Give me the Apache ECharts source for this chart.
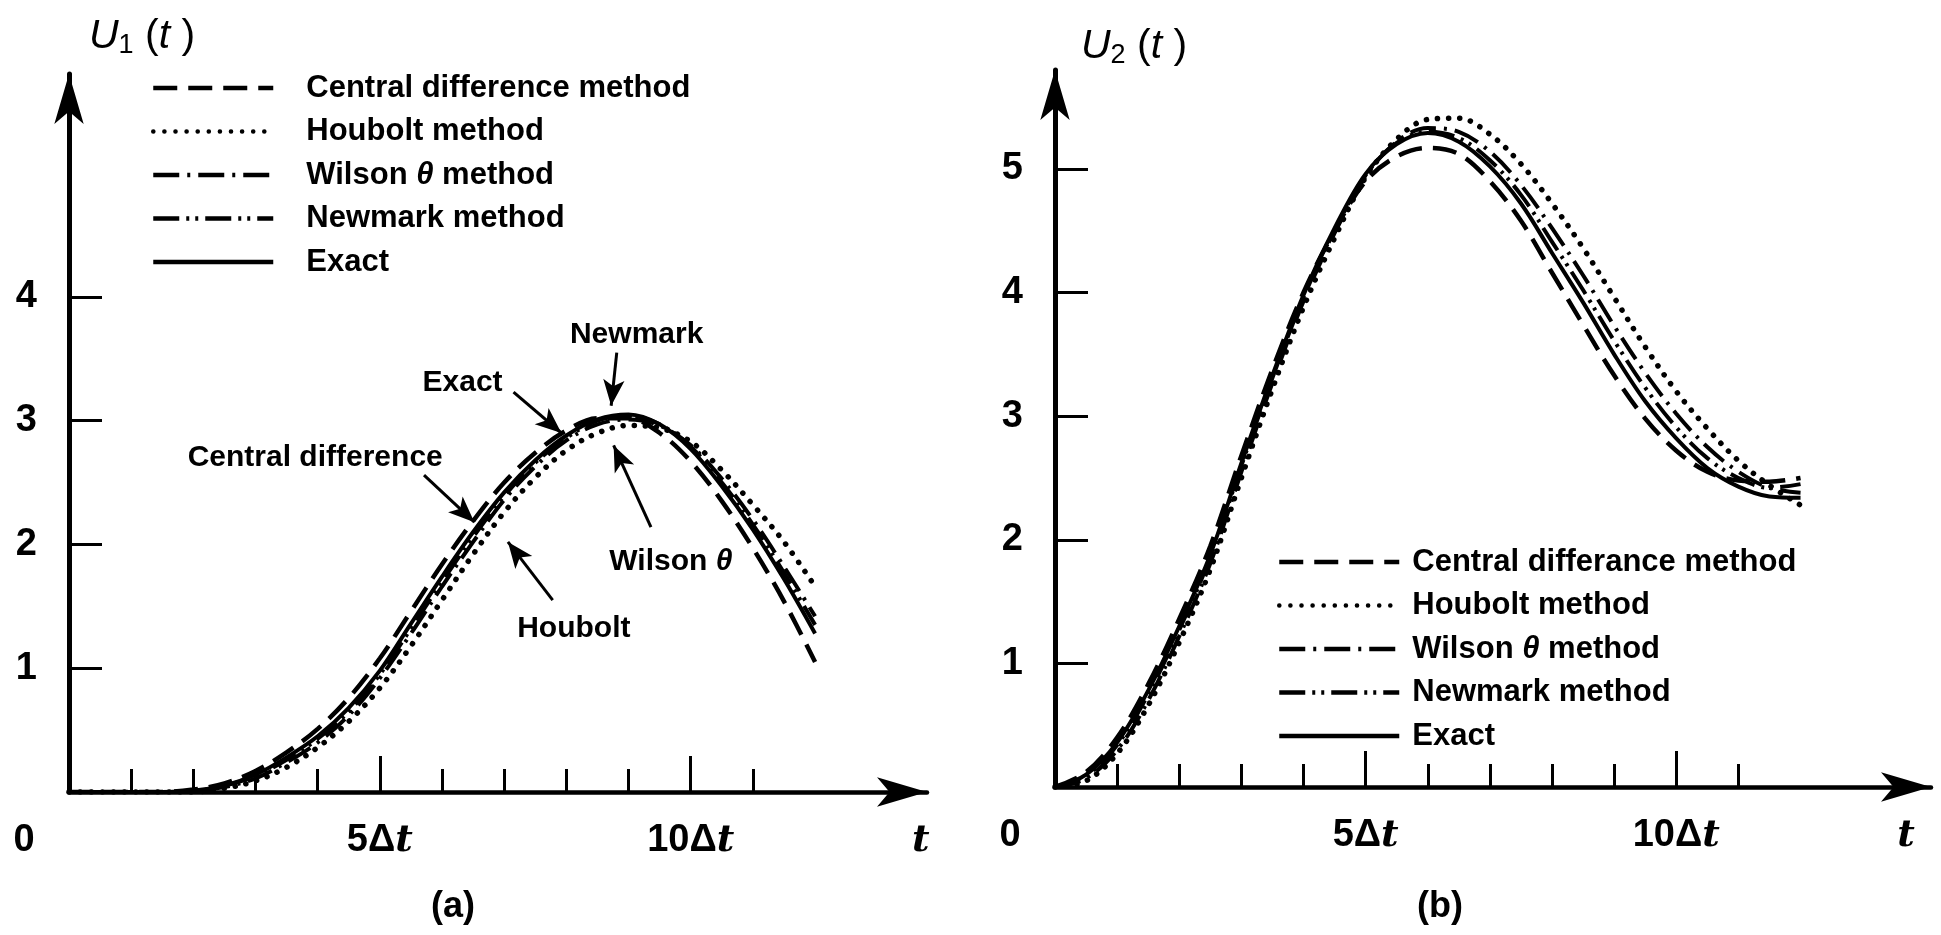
<!DOCTYPE html>
<html>
<head>
<meta charset="utf-8">
<title>U1(t), U2(t)</title>
<script src="https://cdn.jsdelivr.net/npm/echarts@6/dist/echarts.min.js"></script>
<style>
  html, body { margin: 0; padding: 0; background: #fff; }
  #chart { width: 1941px; height: 935px; }
</style>
</head>
<body>
<div id="chart"></div>
<script>
// time in units of Δt
const steps = [0, 0.5, 1, 1.5, 2, 2.5, 3, 3.5, 4, 4.5, 5, 5.5, 6, 6.5, 7, 7.5, 8, 8.5, 9, 9.5, 10, 10.5, 11, 11.5, 12];

// (a) U1(t)
const centralA = [0, 0, 0, 0, 0.02, 0.07, 0.17, 0.32, 0.51, 0.76, 1.08, 1.46, 1.84, 2.19, 2.50, 2.74, 2.92, 3.02, 3.02, 2.90, 2.67, 2.35, 1.97, 1.54, 1.05];
const houboltA = [0, 0, 0, 0, 0, 0.03, 0.09, 0.20, 0.36, 0.57, 0.84, 1.18, 1.55, 1.92, 2.26, 2.54, 2.76, 2.90, 2.96, 2.94, 2.83, 2.60, 2.32, 2.02, 1.66];
const wilsonA = [0, 0, 0, 0, 0.01, 0.04, 0.11, 0.24, 0.40, 0.62, 0.92, 1.28, 1.66, 2.02, 2.36, 2.63, 2.84, 2.97, 3.01, 2.96, 2.80, 2.53, 2.20, 1.82, 1.42];
const newmarkA = [0, 0, 0, 0, 0.01, 0.05, 0.13, 0.26, 0.43, 0.65, 0.95, 1.32, 1.70, 2.06, 2.39, 2.66, 2.86, 3.00, 3.04, 2.97, 2.79, 2.50, 2.16, 1.77, 1.35];
const exactA = [0, 0, 0, 0, 0.01, 0.05, 0.14, 0.28, 0.45, 0.68, 0.98, 1.36, 1.74, 2.10, 2.42, 2.68, 2.88, 3.01, 3.05, 2.97, 2.77, 2.47, 2.12, 1.72, 1.28];

// (b) U2(t)
const centralB = [0, 0.12, 0.40, 0.83, 1.36, 1.95, 2.68, 3.38, 4.00, 4.50, 4.90, 5.10, 5.17, 5.12, 4.90, 4.58, 4.16, 3.74, 3.33, 2.98, 2.72, 2.55, 2.48, 2.47, 2.50];
const houboltB = [0, 0.05, 0.27, 0.66, 1.17, 1.76, 2.50, 3.22, 3.88, 4.44, 4.93, 5.24, 5.40, 5.41, 5.28, 5.04, 4.72, 4.36, 3.96, 3.56, 3.20, 2.90, 2.64, 2.44, 2.28];
const wilsonB = [0, 0.07, 0.30, 0.70, 1.22, 1.81, 2.55, 3.27, 3.93, 4.48, 4.94, 5.22, 5.33, 5.30, 5.14, 4.87, 4.52, 4.14, 3.73, 3.35, 3.02, 2.75, 2.55, 2.42, 2.38];
const newmarkB = [0, 0.09, 0.34, 0.75, 1.27, 1.86, 2.60, 3.31, 3.96, 4.50, 4.95, 5.21, 5.30, 5.25, 5.07, 4.79, 4.41, 4.02, 3.61, 3.23, 2.91, 2.66, 2.50, 2.42, 2.45];
const exactB = [0, 0.10, 0.36, 0.78, 1.30, 1.88, 2.62, 3.33, 3.98, 4.52, 4.96, 5.20, 5.29, 5.22, 5.02, 4.72, 4.32, 3.92, 3.50, 3.12, 2.82, 2.58, 2.43, 2.35, 2.34];

const namesA = ['Central difference method', 'Houbolt method', 'Wilson θ method', 'Newmark method', 'Exact'];
const namesB = ['Central differance method', 'Houbolt method', 'Wilson θ method', 'Newmark method', 'Exact'];

// axis ticks and labels
const xTicks = [1, 2, 3, 4, 5, 6, 7, 8, 9, 10, 11];
const xMajorTicks = [5, 10];
const xLabelVals = [0, 5, 10, 13.7];
const xLabelText = ['{z|0}', '5Δ{i|t}', '10Δ{i|t}', '{i|t}'];
const yTicksA = [1, 2, 3, 4];
const yTicksB = [1, 2, 3, 4, 5];

// arrows + notes in panel (a), data units
const notesA = [
  { text: 'Newmark', at: [9.13, 3.69], from: [8.81, 3.55], to: [8.72, 3.12] },
  { text: 'Exact', at: [6.33, 3.31], from: [7.15, 3.23], to: [7.92, 2.90] },
  { text: 'Central difference', at: [3.96, 2.70], from: [5.71, 2.56], to: [6.52, 2.18] },
  { text: 'Wilson {th|θ}', at: [9.68, 1.86], from: [9.36, 2.14], to: [8.76, 2.80] },
  { text: 'Houbolt', at: [8.12, 1.32], from: [7.78, 1.55], to: [7.06, 2.02] }
];

const FONT = '"Liberation Sans", Arial, Helvetica, sans-serif';

const lineTypes = [
  { type: [24, 11], width: 4.5 },
  { type: [0.1, 11], width: 5.5, cap: 'round' },
  { type: [26, 8, 3, 8], width: 4 },
  { type: [26, 7, 3, 6, 3, 7], width: 4 },
  { type: 'solid', width: 4 }
];

function pairs(vals) {
  return steps.map(function (s, i) { return [s, vals[i]]; });
}

function xAxes(gridIndex, gridHeight, max) {
  return [{
    type: 'value', gridIndex: gridIndex, min: 0, max: max,
    axisLine: { show: true, onZero: false, symbol: ['none', 'arrow'], symbolSize: [22, 50], lineStyle: { color: '#000', width: 4.5 } },
    axisTick: { show: true, inside: true, length: 23, customValues: xTicks, lineStyle: { color: '#000', width: 3 } },
    axisLabel: {
      show: true, customValues: xLabelVals, margin: 30,
      color: '#000', fontSize: 38, fontWeight: 'bold', fontFamily: FONT,
      formatter: function (v) {
        const i = xLabelVals.indexOf(v);
        return i < 0 ? '' : xLabelText[i];
      },
      rich: {
        z: { fontSize: 38, fontWeight: 'bold', fontFamily: FONT, color: '#000', padding: [0, 90, 0, 0] },
        i: { fontSize: 38, fontWeight: 'bold', fontStyle: 'italic', fontFamily: '"DejaVu Serif", serif', color: '#000' }
      }
    },
    splitLine: { show: false }
  }, {
    // longer ticks at 5Δt and 10Δt
    type: 'value', gridIndex: gridIndex, min: 0, max: max,
    position: 'top', offset: -gridHeight,
    axisLine: { show: false },
    axisTick: { show: true, inside: false, length: 36, customValues: xMajorTicks, lineStyle: { color: '#000', width: 3 } },
    axisLabel: { show: false },
    splitLine: { show: false }
  }];
}

function yAxis(gridIndex, ticks, sub, gap, pad) {
  return {
    type: 'value', gridIndex: gridIndex, min: 0, max: 5.8,
    axisLine: { show: true, onZero: false, symbol: ['none', 'arrow'], symbolSize: [22, 50], lineStyle: { color: '#000', width: 5 } },
    axisTick: { show: true, inside: true, length: 33, customValues: ticks, lineStyle: { color: '#000', width: 3 } },
    axisLabel: { show: true, customValues: ticks, margin: 32, color: '#000', fontSize: 38, fontWeight: 'bold', fontFamily: FONT },
    splitLine: { show: false },
    name: '{u|U}{s|' + sub + '}{p| (}{u|t}{p| )}',
    nameLocation: 'end',
    nameGap: gap,
    nameTextStyle: {
      align: 'left', verticalAlign: 'middle', padding: [0, 0, 0, pad],
      rich: {
        u: { fontSize: 41, fontStyle: 'italic', fontFamily: FONT, color: '#000' },
        s: { fontSize: 27, fontFamily: FONT, color: '#000', padding: [18, 0, 0, 0] },
        p: { fontSize: 41, fontFamily: FONT, color: '#000' }
      }
    }
  };
}

function seriesFor(names, data, xIdx, yIdx) {
  return names.map(function (n, i) {
    return {
      name: n, type: 'line', xAxisIndex: xIdx, yAxisIndex: yIdx,
      data: pairs(data[i]), symbol: 'none', showSymbol: false, smooth: 0.35,
      lineStyle: Object.assign({ color: '#000' }, lineTypes[i]),
      itemStyle: { color: '#000' }
    };
  });
}

function legendFor(names, left, top, pad) {
  return {
    orient: 'vertical', left: left, top: top, selectedMode: false,
    itemWidth: 120, itemHeight: 20, itemGap: 9.5,
    data: names,
    // only the line sample, no marker dot
    itemStyle: { color: 'rgba(0,0,0,0)', borderColor: 'rgba(0,0,0,0)', borderWidth: 0 },
    lineStyle: { width: 4.5 },
    formatter: function (n) { return n.replace('θ', '{th|θ}'); },
    textStyle: {
      color: '#000', fontSize: 31, fontWeight: 'bold', fontFamily: FONT, lineHeight: 34,
      padding: [0, 0, 0, pad],
      rich: { th: { fontSize: 31, fontWeight: 'bold', fontStyle: 'italic', fontFamily: FONT, color: '#000' } }
    }
  };
}

const seriesA = seriesFor(namesA, [centralA, houboltA, wilsonA, newmarkA, exactA], 0, 0);
const seriesB = seriesFor(namesB, [centralB, houboltB, wilsonB, newmarkB, exactB], 2, 1);

// annotation arrows on the exact curve of (a)
seriesA[4].markLine = {
  silent: true, animation: false,
  symbol: ['none', 'arrow'], symbolSize: [16, 26],
  lineStyle: { color: '#000', width: 3, type: 'solid' },
  label: { show: false },
  data: notesA.map(function (a) { return [{ coord: a.from }, { coord: a.to }]; })
};

const chart = echarts.init(document.getElementById('chart'));
chart.setOption({
  backgroundColor: '#ffffff',
  animation: false,
  grid: [
    { left: 69, top: 74, right: 1014, bottom: 143 },
    { left: 1055, top: 70, right: 10, bottom: 148 }
  ],
  xAxis: xAxes(0, 718, 13.8).concat(xAxes(1, 717, 14.1)),
  yAxis: [yAxis(0, yTicksA, '1', 37, 20), yAxis(1, yTicksB, '2', 23, 26)],
  legend: [legendFor(namesA, 146, 66, 28), legendFor(namesB, 1272, 540, 8)],
  series: seriesA.concat(seriesB)
});

// note labels of (a) and the panel captions
const noteText = notesA.map(function (a) {
  const p = chart.convertToPixel({ xAxisIndex: 0, yAxisIndex: 0 }, a.at);
  return {
    type: 'text', x: p[0], y: p[1], silent: true,
    style: {
      text: a.text, fill: '#000', fontSize: 30, fontWeight: 'bold', fontFamily: FONT,
      align: 'center', verticalAlign: 'middle',
      rich: { th: { fontSize: 30, fontWeight: 'bold', fontStyle: 'italic', fontFamily: FONT, fill: '#000' } }
    }
  };
});
const captions = [['(a)', 453], ['(b)', 1440]].map(function (c) {
  return {
    type: 'text', x: c[1], y: 907, silent: true,
    style: { text: c[0], fill: '#000', fontSize: 36, fontWeight: 'bold', fontFamily: FONT, align: 'center', verticalAlign: 'middle' }
  };
});
chart.setOption({ graphic: noteText.concat(captions) });
</script>
</body>
</html>
